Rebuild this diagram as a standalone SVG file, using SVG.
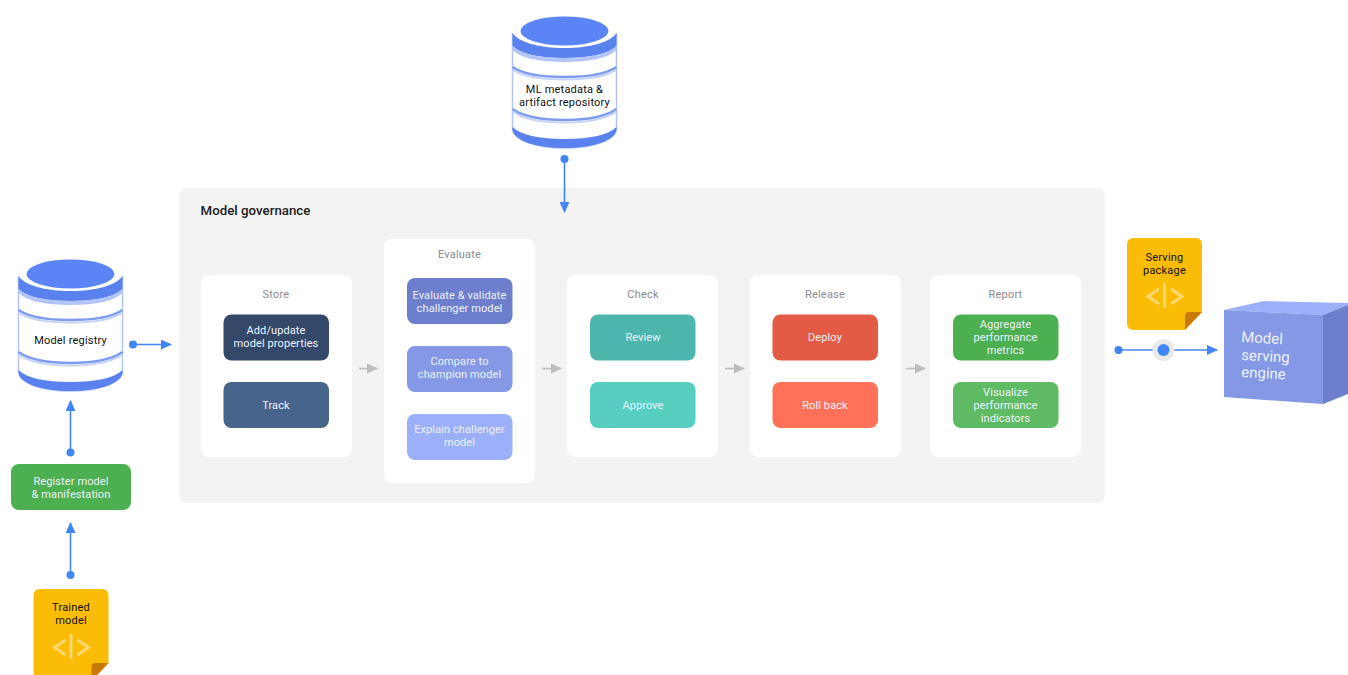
<svg xmlns="http://www.w3.org/2000/svg" xmlns:xlink="http://www.w3.org/1999/xlink" width="1348" height="675" viewBox="0 0 1348 675">
<style>
text{font-family:Roboto,"Liberation Sans",sans-serif;text-anchor:middle}
.panel{fill:#f3f3f3}
.card{fill:#fff}
.box{stroke:none}
.t{font-size:11px;fill:#eef1fb;letter-spacing:.1px}
.h{font-size:11px;fill:#8b8b8b;letter-spacing:.2px}
.k{font-size:11px;fill:#111;letter-spacing:.2px}
.blue{stroke:#4285f4;stroke-width:1.6;fill:none}
.grey{stroke:#bdbdbd;stroke-width:1.6;fill:none}
.dot{fill:#4285f4}
</style>
<defs>
<marker id="ab" markerUnits="userSpaceOnUse" markerWidth="11" markerHeight="10" refX="10" refY="5" orient="auto"><path d="M0 0L11 5L0 10Z" fill="#4285f4"/></marker>
<marker id="ag" markerUnits="userSpaceOnUse" markerWidth="11" markerHeight="10" refX="10" refY="5" orient="auto"><path d="M0 0L11 5L0 10Z" fill="#bdbdbd"/></marker>
<g id="cyl">
<path d="M-52 17V112C-52 124 -28 132 0 132C28 132 52 124 52 112V17" fill="#fff" stroke="#b3c5f8" stroke-width="1.500"/>
<path d="M-52 17C-46 26 -26 32 0 32C26 32 46 26 52 17V30C44 38 26 42 0 42C-26 42 -44 38 -52 30Z" fill="#5a82ee"/>
<path d="M-52 30C-44 38 -26 42 0 42C26 42 44 38 52 30V34C44 42 26 46 0 46C-26 46 -44 42 -52 34Z" fill="#b3c5f8"/>
<ellipse cx="0" cy="15" rx="44" ry="14.500" fill="#5b85f6"/>
<path d="M-52 51C-42 58 -24 61 0 61C24 61 42 58 52 51" fill="none" stroke="#7d9cf0" stroke-width="2.500"/>
<path d="M-52 53.500C-42 60.500 -24 63.500 0 63.500C24 63.500 42 60.500 52 53.500" fill="none" stroke="#c3d1fa" stroke-width="2"/>
<path d="M-52 93C-42 100 -24 104 0 104C24 104 42 100 52 93" fill="none" stroke="#7d9cf0" stroke-width="2.500"/>
<path d="M-52 95.500C-42 102.500 -24 106.500 0 106.500C24 106.500 42 102.500 52 95.500" fill="none" stroke="#c3d1fa" stroke-width="2"/>
<path d="M-52 111C-44 119 -26 123 0 123C26 123 44 119 52 111V114C50 125 28 132 0 132C-28 132 -50 125 -52 114Z" fill="#5a82ee"/>
</g>
<g id="doc">
<path d="M6 0H69A6 6 0 0 1 75 6V74L58 92H6A6 6 0 0 1 0 86V6A6 6 0 0 1 6 0Z" fill="#fbbc05"/>
<path d="M75 74L58 92V78A4 4 0 0 1 62 74Z" fill="#c97a06"/>
<path d="M32 51L21 58.500L32 66M44 51L55 58.500L44 66M37.500 45V70" fill="none" stroke="#fdd76f" stroke-width="3"/>
</g>
</defs>

<g id="governance">
<rect class="panel" x="179" y="188" width="926" height="315" rx="8"/>
<text x="255.500" y="215" style="font-size:13.300px;font-weight:500;fill:#202124">Model governance</text>
</g>

<g id="store">
<rect class="card" x="201" y="275" width="151" height="182" rx="8"/>
<text class="h" x="276" y="298">Store</text>
<rect class="box" x="223.500" y="314.500" width="105.500" height="46" rx="8" fill="#34486a"/>
<text class="t" x="276" y="334">Add/update</text><text class="t" x="276" y="347">model properties</text>
<rect class="box" x="223.500" y="382" width="105.500" height="46" rx="8" fill="#47648a"/>
<text class="t" x="276" y="409">Track</text>
</g>

<g id="evaluate">
<rect class="card" x="384" y="239" width="151" height="244" rx="8"/>
<text class="h" x="459.500" y="258">Evaluate</text>
<rect class="box" x="407" y="278" width="105.500" height="46" rx="8" fill="#6d7fcc"/>
<text class="t" x="459.500" y="299">Evaluate &amp; validate</text><text class="t" x="459.500" y="312">challenger model</text>
<rect class="box" x="407" y="346" width="105.500" height="46" rx="8" fill="#8498e6"/>
<text class="t" x="459.500" y="365">Compare to</text><text class="t" x="459.500" y="378">champion model</text>
<rect class="box" x="407" y="414" width="105.500" height="46" rx="8" fill="#9bb0f8"/>
<text class="t" x="459.500" y="433">Explain challenger</text><text class="t" x="459.500" y="446">model</text>
</g>

<g id="check">
<rect class="card" x="567" y="275" width="151" height="182" rx="8"/>
<text class="h" x="643" y="298">Check</text>
<rect class="box" x="590" y="314.500" width="105.500" height="46" rx="8" fill="#4db6ac"/>
<text class="t" x="643" y="341">Review</text>
<rect class="box" x="590" y="382" width="105.500" height="46" rx="8" fill="#57cfc0"/>
<text class="t" x="643" y="409">Approve</text>
</g>

<g id="release">
<rect class="card" x="750" y="275" width="151" height="182" rx="8"/>
<text class="h" x="825" y="298">Release</text>
<rect class="box" x="772.500" y="314.500" width="105.500" height="46" rx="8" fill="#e35a45"/>
<text class="t" x="825" y="341">Deploy</text>
<rect class="box" x="772.500" y="382" width="105.500" height="46" rx="8" fill="#ff7259"/>
<text class="t" x="825" y="409">Roll back</text>
</g>

<g id="report">
<rect class="card" x="930" y="275" width="151" height="182" rx="8"/>
<text class="h" x="1005.500" y="298">Report</text>
<rect class="box" x="953" y="314.500" width="105.500" height="46" rx="8" fill="#4caf50"/>
<text class="t" x="1005.500" y="328">Aggregate</text><text class="t" x="1005.500" y="341">performance</text><text class="t" x="1005.500" y="354">metrics</text>
<rect class="box" x="953" y="382" width="105.500" height="46" rx="8" fill="#5fbb63"/>
<text class="t" x="1005.500" y="396">Visualize</text><text class="t" x="1005.500" y="409">performance</text><text class="t" x="1005.500" y="422">indicators</text>
</g>

<g id="metadata-repository">
<use xlink:href="#cyl" href="#cyl" x="564.500" y="16"/>
<text class="k" x="564.500" y="93">ML metadata &amp;</text><text class="k" x="564.500" y="106">artifact repository</text>
</g>

<g id="model-registry">
<use xlink:href="#cyl" href="#cyl" x="70.500" y="259"/>
<text class="k" x="70.500" y="344">Model registry</text>
</g>

<g id="register-model">
<rect class="box" x="11" y="464" width="120" height="46" rx="8" fill="#4caf50"/>
<text class="t" x="71" y="485">Register model</text><text class="t" x="71" y="498">&amp; manifestation</text>
</g>

<g id="trained-model">
<use xlink:href="#doc" href="#doc" x="33.500" y="589"/>
<text class="k" x="71" y="611">Trained</text><text class="k" x="71" y="624">model</text>
</g>

<g id="serving-package">
<use xlink:href="#doc" href="#doc" x="1127" y="238"/>
<text class="k" x="1164.500" y="261">Serving</text><text class="k" x="1164.500" y="274">package</text>
</g>

<g id="model-serving-engine">
<path d="M1224 310L1264 301L1348 303V305L1323 315Z" fill="#9bb0f8"/>
<path d="M1224 310L1323 315V404L1224 397Z" fill="#8498e6"/>
<path d="M1323 315L1348 305V394L1323 404Z" fill="#6d7fcc"/>
<text x="1241" y="342" style="font-size:15px;fill:#eef1fb;text-anchor:start" transform="rotate(3 1241 342)">Model</text>
<text x="1241" y="360" style="font-size:15px;fill:#eef1fb;text-anchor:start" transform="rotate(3 1241 360)">serving</text>
<text x="1241" y="377" style="font-size:15px;fill:#eef1fb;text-anchor:start" transform="rotate(3 1241 377)">engine</text>
</g>

<g id="connectors">
<path class="grey" d="M359 368.500H377" marker-end="url(#ag)"/>
<path class="grey" d="M542 368.500H561" marker-end="url(#ag)"/>
<path class="grey" d="M725 368.500H744" marker-end="url(#ag)"/>
<path class="grey" d="M906 368.500H925" marker-end="url(#ag)"/>
<circle class="dot" cx="564.500" cy="159" r="4"/>
<path class="blue" d="M564.500 159V212" marker-end="url(#ab)"/>
<circle class="dot" cx="133" cy="344.500" r="4"/>
<path class="blue" d="M133 344.500H171" marker-end="url(#ab)"/>
<circle class="dot" cx="70.500" cy="452.500" r="4"/>
<path class="blue" d="M70.500 452.500V401" marker-end="url(#ab)"/>
<circle class="dot" cx="70.500" cy="575" r="4"/>
<path class="blue" d="M70.500 575V523" marker-end="url(#ab)"/>
<circle class="dot" cx="1118.500" cy="350" r="4"/>
<path class="blue" d="M1118.500 350H1217" marker-end="url(#ab)"/>
<circle cx="1163.500" cy="350" r="11" fill="#e9e9e9"/>
<circle class="dot" cx="1163.500" cy="350" r="6"/>
</g>
</svg>
